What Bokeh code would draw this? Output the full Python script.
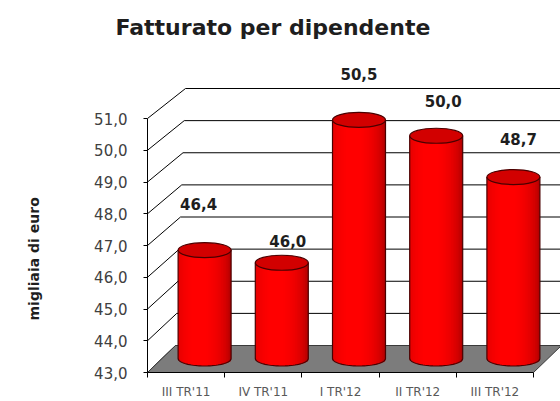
import numpy as np
from bokeh.plotting import figure
from bokeh.models import Range1d, LinearAxis, FixedTicker, Title, CustomJSTickFormatter
from bokeh.embed import file_html
from bokeh.resources import INLINE

# ---- data ----
categories = ["III TR'11", "IV TR'11", "I TR'12", "II TR'12", "III TR'12"]
values = [46.4, 46.0, 50.5, 50.0, 48.7]
y_ticks = [43.0, 44.0, 45.0, 46.0, 47.0, 48.0, 49.0, 50.0, 51.0]
title_text = "Fatturato per dipendente"
y_title = "migliaia di euro"

# ---- layout / style ----
W, H = 560, 401
PX_X = 77.2      # px per category
PX_Y = 31.75     # px per unit
LEFT = 147
TOP = 48
BOTTOM = 29
frame_w = W - LEFT
frame_h = H - TOP - BOTTOM
y0 = y_ticks[0]
n = len(categories)
x_end = frame_w / PX_X
y_top = y0 + frame_h / PX_Y
FONT = "DejaVu Sans"

label_lift_px = [46, 22, 46, 35, 38]
label_shift_px = [-6, 6, 0, 7, 5]


def depth_px(v):
    # right / up offset of the back wall (slight perspective)
    return 28 + 1.25 * (v - y0), 27 + 0.375 * (v - y0)


p = figure(width=W, height=H, output_backend="svg", toolbar_location=None,
           x_range=Range1d(0, x_end), y_range=Range1d(y0, y_top),
           min_border_left=LEFT, min_border_right=0, min_border_top=TOP,
           min_border_bottom=BOTTOM, x_axis_location=None, y_axis_location=None)
p.outline_line_color = None
p.background_fill_color = "white"
p.border_fill_color = "white"
p.grid.visible = False

# ---- walls ----
diag_xs, diag_ys, grid_xs, grid_ys = [], [], [], []
for v in y_ticks:
    dxp, dyp = depth_px(v)
    xb, yb = dxp / PX_X, v + dyp / PX_Y
    diag_xs.append([0, xb]); diag_ys.append([v, yb])
    grid_xs.append([xb, n + xb + 1]); grid_ys.append([yb, yb])
p.multi_line(grid_xs, grid_ys, line_color="black", line_width=1)
p.multi_line(diag_xs, diag_ys, line_color="black", line_width=1)

dxp, dyp = depth_px(y0)
fx, fy = dxp / PX_X, y0 + dyp / PX_Y
p.patch([0, n, n + fx, fx], [y0, y0, fy, fy], fill_color="#7c7c7c",
        line_color="#3a3a3a", line_width=1)

# ---- cylinders ----
r = 26.5 / PX_X
hh = 7.5 / PX_Y
off_x = 18.5 / PX_X
base = y0 + 14 / PX_Y
top_off = 14.5 / PX_Y
NS = 32
edges = np.linspace(-1, 1, NS + 1)
mids = (edges[:-1] + edges[1:]) / 2
step = edges[1] - edges[0]


def shade(u):
    ang = (u + 0.2) * (np.pi / 2) / 1.2
    c = max(np.cos(ang), 0.0)
    f = 0.6 + 0.4 * c ** 0.45
    return "#%02x%02x%02x" % (min(255, int(258 * f)), 0, 0)


L, R, B, T, C = [], [], [], [], []
out_xs, out_ys = [], []
cxs, tops = [], []
for i, v in enumerate(values):
    cx = i + 0.5 + off_x
    top = v + top_off
    cxs.append(cx); tops.append(top)
    for k in range(NS):
        L.append(cx + edges[k] * r)
        R.append(cx + min(1.0, edges[k + 1] + 0.6 * step) * r)
        B.append(base - hh * np.sqrt(max(0.0, 1 - mids[k] ** 2)))
        T.append(top)
        C.append(shade(mids[k]))
    t = np.linspace(np.pi, 2 * np.pi, 40)
    xs = [cx - r] + list(cx + r * np.cos(t)) + [cx + r]
    ys = [top] + list(base + hh * np.sin(t)) + [top]
    out_xs.append(xs); out_ys.append(ys)

p.quad(left=L, right=R, bottom=B, top=T, fill_color=C, line_color=None)
p.multi_line(out_xs, out_ys, line_color="#4a0000", line_width=1.2)
p.ellipse(x=cxs, y=tops, width=2 * r, height=2 * hh, fill_color="#d20000",
          line_color="#4a0000", line_width=1.2)

# ---- value labels ----
p.text(x=cxs, y=tops, text=[f"{v:.1f}".replace(".", ",") for v in values],
       x_offset=label_shift_px, y_offset=[-l for l in label_lift_px],
       text_align="center", text_baseline="middle", text_font={"value": FONT},
       text_font_style="bold", text_font_size="15px", text_color="#1e1e1e")

# ---- axes ----
yaxis = LinearAxis(bounds=(y_ticks[0], y_ticks[-1]), ticker=FixedTicker(ticks=y_ticks),
                   formatter=CustomJSTickFormatter(code="return tick.toFixed(1).replace('.', ',')"),
                   major_tick_out=4, major_tick_in=0, minor_tick_out=0, minor_tick_in=0,
                   major_label_standoff=16, major_label_text_font=FONT,
                   major_label_text_font_size="15px", major_label_text_color="#404040",
                   axis_line_color="black", axis_line_width=1, major_tick_line_color="black")
p.add_layout(yaxis, "left")

# blank spacer between the tick labels and the vertical title
spacer = LinearAxis(ticker=FixedTicker(ticks=[y0]), major_tick_out=40, major_tick_in=0,
                    minor_tick_out=0, minor_tick_in=0, axis_line_color=None,
                    major_tick_line_color="white", minor_tick_line_color=None,
                    major_label_standoff=0,
                    formatter=CustomJSTickFormatter(code="return ''"))
p.add_layout(spacer, "left")

xaxis = LinearAxis(bounds=(0, n),
                   ticker=FixedTicker(ticks=[i + 0.5 for i in range(n)],
                                      minor_ticks=list(range(n + 1))),
                   formatter=CustomJSTickFormatter(args=dict(labels=categories),
                                                   code="return labels[Math.floor(tick)]"),
                   major_tick_out=0, major_tick_in=0, minor_tick_out=5, minor_tick_in=0,
                   major_label_standoff=7, major_label_text_font=FONT,
                   major_label_text_font_size="12px", major_label_text_color="#595959",
                   axis_line_color="black", axis_line_width=1, minor_tick_line_color="black")
p.add_layout(xaxis, "below")

# ---- titles ----
p.add_layout(Title(text=y_title, align="left", offset=52, standoff=20,
                   text_font=FONT, text_font_style="bold", text_font_size="14px",
                   text_color="#1e1e1e"),
             "left")
p.add_layout(Title(text=title_text, align="left", offset=-32, standoff=18, text_font=FONT,
                   text_font_style="bold", text_font_size="22px", text_color="#1e1e1e"),
             "above")

open("out.html", "w").write(file_html(p, INLINE))
